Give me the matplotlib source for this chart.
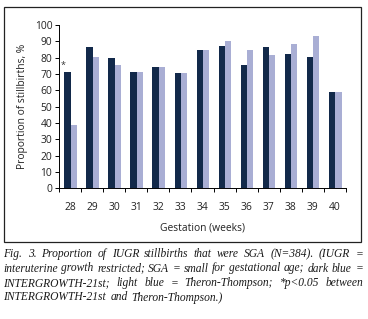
import matplotlib
matplotlib.use("Agg")
import matplotlib.pyplot as plt
import numpy as np
from matplotlib.patches import Rectangle

weeks = ["28", "29", "30", "31", "32", "33", "34", "35", "36", "37", "38", "39", "40"]
intergrowth = [71.5, 86.7, 79.5, 71.2, 74.2, 70.5, 84.5, 87.3, 75.6, 86.3, 82.5, 80.2, 58.8]
theron = [38.5, 80.2, 75.8, 71.2, 74.2, 70.5, 84.5, 90.3, 84.8, 81.8, 88.3, 93.5, 58.8]
yticks = [0, 10, 20, 30, 40, 50, 60, 70, 80, 90, 100]
sig_marker = {"28": "*"}

caption_lines = [
    "Fig. 3. Proportion of IUGR stillbirths that were SGA (N=384). (IUGR =",
    "interuterine growth restricted; SGA = small for gestational age; dark blue =",
    "INTERGROWTH-21st; light blue = Theron-Thompson; *p<0.05 between",
    "INTERGROWTH-21st and Theron-Thompson.)",
]

W, H = 368, 319
fig = plt.figure(figsize=(W / 100, H / 100), dpi=100)
fig.patch.set_facecolor("white")

dark = "#12294a"
light = "#a9aed4"
sans = ["Open Sans", "DejaVu Sans"]
tfs = 7.4

# outer frame
fig.patches.append(Rectangle((3.5 / W, 1 - 241.5 / H), (361 - 3.5) / W, (241.5 - 7.5) / H,
                             transform=fig.transFigure, fill=False, edgecolor="#222222", lw=0.9))

ax = fig.add_axes([59.3 / W, 1 - 188.3 / H, (345.7 - 59.3) / W, (188.3 - 25) / H])
x = np.arange(len(weeks))
bw = 0.29
ax.bar(x - bw / 2 + 0.02, intergrowth, bw, color=dark)
ax.bar(x + bw / 2 + 0.02, theron, bw, color=light)
for i, w in enumerate(weeks):
    if w in sig_marker:
        ax.text(x[i] - 0.32, intergrowth[i] + 3.5, sig_marker[w], ha="center", va="center",
                fontsize=6.5, color="#333333", family=sans)

ax.set_xlim(-0.5, len(weeks) - 0.5)
ax.set_ylim(0, 100)
ax.set_yticks(yticks)
ax.set_yticklabels([str(v) for v in yticks], fontsize=tfs, family=sans, color="#222222")
ax.set_xticks(x)
ax.set_xticklabels(weeks, fontsize=tfs, family=sans, color="#222222")
ax.set_xticks(np.arange(len(weeks) + 1) - 0.5, minor=True)
ax.tick_params(axis="x", which="major", length=0, pad=10)
ax.tick_params(axis="x", which="minor", length=3, width=0.7, direction="out")
ax.tick_params(axis="y", length=3, width=0.7, direction="out", pad=2)
for s in ["top", "right"]:
    ax.spines[s].set_visible(False)
for s in ["left", "bottom"]:
    ax.spines[s].set_linewidth(0.7)
ax.set_ylabel("Proportion of stillbirths, %", fontsize=tfs, family=sans, color="#222222", labelpad=5)
ax.set_xlabel("Gestation (weeks)", fontsize=tfs, family=sans, color="#222222", labelpad=7)

# justified caption, font size fitted so the longest line fits with normal spaces
serif = "Liberation Serif"
left, right = 3.5, 363.0
ys = [257, 271.5, 286, 300.5]
fig.canvas.draw()
r = fig.canvas.get_renderer()


def word_widths(words, fs):
    out = []
    for wd in words:
        t = fig.text(0, 0, wd, fontsize=fs, family=serif, style="italic")
        out.append(t.get_window_extent(renderer=r).width)
        t.remove()
    return out


fs = 10.0
for _ in range(30):
    ok = True
    spw = 0.25 * fs * 100 / 72
    for line in caption_lines[:-1]:
        words = line.split(" ")
        need = sum(word_widths(words, fs)) + spw * 1.1 * (len(words) - 1)
        if need > right - left:
            ok = False
            break
    if ok:
        break
    fs -= 0.1

spw = 0.25 * fs * 100 / 72
for li, (line, yy) in enumerate(zip(caption_lines, ys)):
    words = line.split(" ")
    justify = li < len(caption_lines) - 1
    widths = word_widths(words, fs)
    if justify and len(words) > 1:
        gap = (right - left - sum(widths)) / (len(words) - 1)
    else:
        gap = spw * 1.4
    cx = left
    for wd, wdt in zip(words, widths):
        fig.text(cx / W, 1 - yy / H, wd, fontsize=fs, family=serif, style="italic",
                 color="#1a1a1a", va="baseline", ha="left")
        cx += wdt + gap

fig.savefig("out.png", dpi=100)
